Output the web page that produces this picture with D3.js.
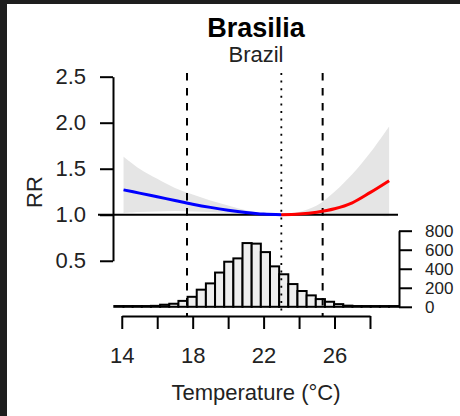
<!DOCTYPE html>
<html>
<head>
<meta charset="utf-8">
<script src="https://cdn.jsdelivr.net/npm/d3@7"></script>
<style>
  html, body { margin: 0; padding: 0; background: #ffffff; }
  svg { display: block; font-family: "Liberation Sans", Arial, Helvetica, sans-serif; }
</style>
</head>
<body>
<svg id="chart" width="460" height="416"></svg>
<script>
// ---- labels ----
const cityName = "Brasilia";
const countryName = "Brazil";
const xTitle = "Temperature (°C)";
const yTitle = "RR";

// ---- exposure-response curve (relative risk by temperature) ----
const curveTemps = [14.1, 15, 16, 17, 18, 19, 20, 21, 22, 23, 24, 25, 26, 27, 28, 29.08];
const rrValues   = [1.27, 1.235, 1.195, 1.155, 1.115, 1.08, 1.05, 1.025, 1.007, 1.0, 1.008, 1.028, 1.065, 1.13, 1.24, 1.37];
const rrLower    = [1.02, 1.03, 1.035, 1.04, 1.035, 1.03, 1.02, 1.01, 1.003, 1.0, 0.998, 0.995, 0.992, 0.99, 0.987, 0.985];
const rrUpper    = [1.63, 1.50, 1.39, 1.29, 1.22, 1.155, 1.10, 1.05, 1.015, 1.0, 1.03, 1.10, 1.25, 1.44, 1.67, 1.96];

// minimum mortality temperature and percentile cut-offs
const mmt = 23.0;
const cutoffs = [17.68, 25.33];

// ---- daily temperature distribution ----
const binStart = 13.58;
const binWidth = 0.5165;
const binCounts = [8, 8, 8, 8, 10, 22, 32, 62, 105, 180, 246, 360, 474, 509, 670, 664,
                   575, 425, 342, 239, 166, 120, 81, 53, 28, 12, 8, 8, 8, 8, 8];

// ---- axis ticks ----
const rrTicks = [0.5, 1.0, 1.5, 2.0, 2.5];
const tempTicks = [14, 16, 18, 20, 22, 24, 26, 28];
const tempTickLabels = ["14", "", "18", "", "22", "", "26", ""];
const countTicks = [0, 200, 400, 600, 800];

// ---- layout ----
const W = 460, H = 416;
const plot = { left: 98, right: 398, top: 73, bottom: 316 };
const fontMain = 22;

const svg = d3.select("#chart");

// window frame strip (top and left edges)
svg.append("rect").attr("x", 0).attr("y", 0).attr("width", W).attr("height", 4).attr("fill", "#1e1e1e");
svg.append("rect").attr("x", 0).attr("y", 0).attr("width", 7).attr("height", H).attr("fill", "#1e1e1e");

const x = d3.scaleLinear().domain([12.66, 29.58]).range([plot.left, plot.right]);
const y = d3.scaleLinear().domain([-0.1, 2.54]).range([plot.bottom, plot.top]);
const yCount = d3.scaleLinear().domain([0, 800]).range([y(0), 230.7]);

const curve = curveTemps.map((t, i) => ({ t, rr: rrValues[i], lo: rrLower[i], hi: rrUpper[i] }));
const smooth = d3.curveCatmullRom.alpha(0.5);

// confidence band
svg.append("path")
  .datum(curve)
  .attr("fill", "#e5e5e5")
  .attr("d", d3.area()
    .x(d => x(d.t))
    .y0(d => y(d.lo))
    .y1(d => y(d.hi))
    .curve(smooth));

// histogram of temperatures
const bins = binCounts.map((c, i) => ({ x0: binStart + i * binWidth, x1: binStart + (i + 1) * binWidth, c }));
svg.append("g")
  .selectAll("rect")
  .data(bins)
  .join("rect")
  .attr("x", d => x(d.x0))
  .attr("width", d => x(d.x1) - x(d.x0))
  .attr("y", d => yCount(d.c))
  .attr("height", d => yCount(0) - yCount(d.c))
  .attr("fill", "#eeeeee")
  .attr("stroke", "#000")
  .attr("stroke-width", 2);

// reference line at RR = 1
svg.append("line")
  .attr("x1", plot.left).attr("x2", plot.right)
  .attr("y1", y(1)).attr("y2", y(1))
  .attr("stroke", "#000").attr("stroke-width", 2);

// cut-off lines and MMT
svg.append("g")
  .selectAll("line")
  .data(cutoffs)
  .join("line")
  .attr("x1", d => x(d)).attr("x2", d => x(d))
  .attr("y1", plot.top).attr("y2", plot.bottom)
  .attr("stroke", "#000").attr("stroke-width", 2)
  .attr("stroke-dasharray", "7.5,7.5");

svg.append("line")
  .attr("x1", x(mmt)).attr("x2", x(mmt))
  .attr("y1", plot.top).attr("y2", plot.bottom)
  .attr("stroke", "#000").attr("stroke-width", 1.8)
  .attr("stroke-dasharray", "2,5.6");

// cold and heat sides of the curve
const line = d3.line().x(d => x(d.t)).y(d => y(d.rr)).curve(smooth);
svg.append("path")
  .datum(curve.filter(d => d.t <= mmt))
  .attr("fill", "none").attr("stroke", "#0000ff").attr("stroke-width", 3)
  .attr("d", line);
svg.append("path")
  .datum(curve.filter(d => d.t >= mmt))
  .attr("fill", "none").attr("stroke", "#ff0000").attr("stroke-width", 3)
  .attr("d", line);

// ---- axes ----
function styleAxis(g, size) {
  g.selectAll(".domain").attr("stroke", "#000").attr("stroke-width", 2);
  g.selectAll(".tick line").attr("stroke", "#000").attr("stroke-width", 2);
  g.selectAll(".tick text").attr("fill", "#222").style("font-size", size + "px")
    .style("font-family", '"Liberation Sans", Arial, sans-serif');
}

// RR axis (left)
const yAxisScale = y.copy().domain([0.5, 2.5]).range([y(0.5), y(2.5)]);
svg.append("g")
  .attr("transform", `translate(113,0)`)
  .call(d3.axisLeft(yAxisScale).tickValues(rrTicks).tickFormat(d3.format(".1f"))
    .tickSize(13).tickSizeOuter(0).tickPadding(14))
  .call(g => styleAxis(g, fontMain));

// temperature axis (bottom)
const xAxisScale = x.copy().domain([14, 28]).range([x(14), x(28)]);
svg.append("g")
  .attr("transform", `translate(0,${plot.bottom})`)
  .call(d3.axisBottom(xAxisScale).tickValues(tempTicks)
    .tickFormat((d, i) => tempTickLabels[i])
    .tickSize(13).tickSizeOuter(0).tickPadding(18))
  .call(g => styleAxis(g, fontMain));

// count axis (right)
svg.append("g")
  .attr("transform", `translate(399,0)`)
  .call(d3.axisRight(yCount).tickValues(countTicks)
    .tickSize(13).tickSizeOuter(0).tickPadding(13))
  .call(g => styleAxis(g, 17));

// ---- titles ----
svg.append("text")
  .attr("x", 256).attr("y", 37).attr("text-anchor", "middle")
  .style("font-size", "27px").style("font-weight", "bold").attr("fill", "#000")
  .text(cityName);
svg.append("text")
  .attr("x", 256).attr("y", 62).attr("text-anchor", "middle")
  .style("font-size", fontMain + "px").attr("fill", "#222")
  .text(countryName);
svg.append("text")
  .attr("x", 256).attr("y", 400).attr("text-anchor", "middle")
  .style("font-size", fontMain + "px").attr("fill", "#222")
  .text(xTitle);
svg.append("text")
  .attr("transform", `translate(42,192) rotate(-90)`)
  .attr("text-anchor", "middle")
  .style("font-size", fontMain + "px").attr("fill", "#222")
  .text(yTitle);
</script>
</body>
</html>
